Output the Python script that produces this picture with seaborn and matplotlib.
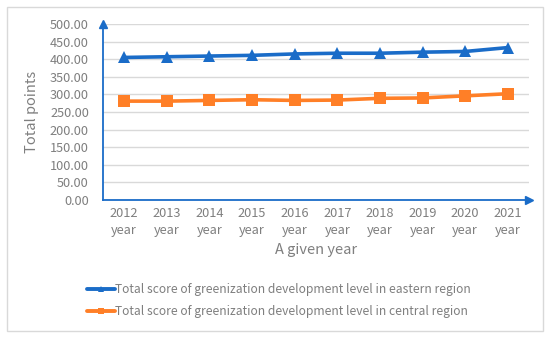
import matplotlib
matplotlib.use("Agg")
import matplotlib.pyplot as plt
from matplotlib.patches import Rectangle
import seaborn as sns
import pandas as pd

years = ["2012", "2013", "2014", "2015", "2016", "2017", "2018", "2019", "2020", "2021"]
eastern = [405, 407, 409, 411, 415, 417, 417, 420, 422, 433]
central = [281, 281, 283, 285, 283, 284, 289, 290, 296, 302]
east_label = "Total score of greenization development level in eastern region"
central_label = "Total score of greenization development level in central region"

blue = "#1A6CC8"
orange = "#FF7F27"
grey_txt = "#7F7F7F"

d = pd.DataFrame({
    "year": years * 2,
    "score": eastern + central,
    "series": [east_label] * len(years) + [central_label] * len(years),
})

sns.set_style("white")
plt.rcParams["font.family"] = ["Noto Sans CJK SC", "DejaVu Sans"]

fig = plt.figure(figsize=(5.5, 3.38), dpi=100)
ax = fig.add_axes([0.187, 0.408, 0.775, 0.521])

sns.lineplot(data=d, x="year", y="score", hue="series", style="series",
             palette=[blue, orange], markers=["^", "s"], dashes=False,
             linewidth=2.6, markersize=8.5, markeredgewidth=0, ax=ax, legend=False)

ax.set_xlim(-0.5, 9.5)
ax.set_ylim(0, 500)
ax.set_yticks(range(0, 501, 50))
ax.set_yticklabels(["%.2f" % v for v in range(0, 501, 50)])
ax.set_xticks(range(len(years)))
ax.set_xticklabels([y + "\nyear" for y in years], linespacing=1.35)
ax.yaxis.grid(True, color="#D9D9D9", linewidth=1)
ax.set_axisbelow(True)
ax.tick_params(axis="both", length=0, labelsize=9.2, colors=grey_txt, pad=5)
ax.tick_params(axis="y", pad=10)
for s in ["top", "right"]:
    ax.spines[s].set_visible(False)
for s in ["left", "bottom"]:
    ax.spines[s].set_color(blue)
    ax.spines[s].set_linewidth(1.3)
# arrow heads on the axes
ax.plot([0], [1.0], marker="^", color=blue, markersize=6, transform=ax.transAxes, clip_on=False)
ax.plot([1.0], [0], marker=">", color=blue, markersize=6, transform=ax.transAxes, clip_on=False)

ax.set_xlabel("A given year", fontsize=10.5, color=grey_txt, labelpad=5)
ax.set_ylabel("Total points", fontsize=10.5, color=grey_txt, labelpad=8)

handles = [
    plt.Line2D([], [], color=blue, marker="^", linewidth=2.8, markersize=4, markeredgewidth=0),
    plt.Line2D([], [], color=orange, marker="s", linewidth=2.8, markersize=4, markeredgewidth=0),
]
fig.legend(handles, [east_label, central_label], loc="center",
           bbox_to_anchor=(0.507, 0.111), frameon=False, fontsize=8.7,
           labelcolor=grey_txt, handlelength=2.3, handletextpad=0.05, labelspacing=0.75)

fig.patches.append(Rectangle((0.013, 0.02), 0.974, 0.96, transform=fig.transFigure,
                             fill=False, edgecolor="#D9D9D9", linewidth=1))

fig.savefig("out.png", dpi=100)
